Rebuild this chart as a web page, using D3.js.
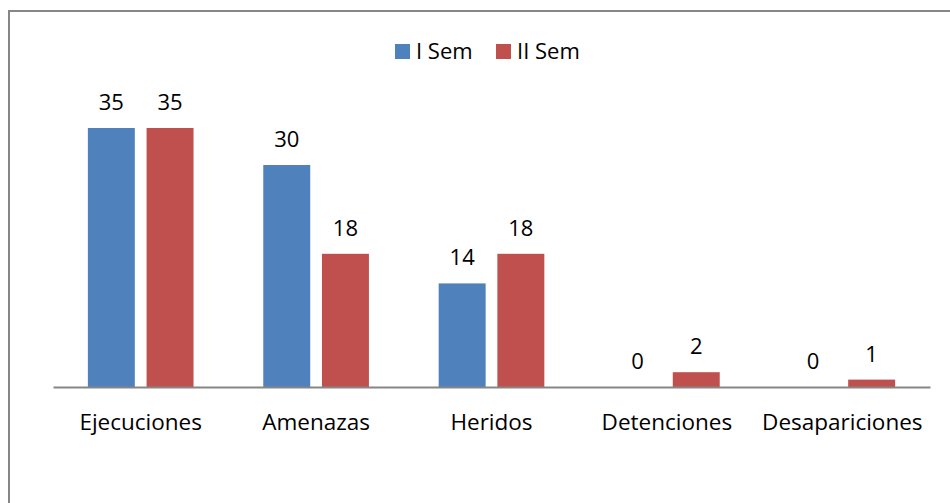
<!DOCTYPE html>
<html>
<head>
<meta charset="utf-8">
<script src="https://cdn.jsdelivr.net/npm/d3@7"></script>
<style>
  body { margin: 0; background: #fff; }
  text { font-family: "Open Sans", "DejaVu Sans", sans-serif; fill: #000; }
</style>
</head>
<body>
<div id="chart"></div>
<script>
const categories = ["Ejecuciones", "Amenazas", "Heridos", "Detenciones", "Desapariciones"];
const seriesNames = ["I Sem", "II Sem"];
const semI = [35, 30, 14, 0, 0];
const semII = [35, 18, 18, 2, 1];
const colors = ["#4F81BD", "#C0504D"];

const width = 950, height = 503;
const margin = {left: 53, right: 20, top: 91, bottom: 116};

let svg = d3.select("#chart")
    .append("svg")
    .attr("width", width)
    .attr("height", height);

// outer frame (runs off the picture at right and bottom)
svg.append("rect")
    .attr("x", 9).attr("y", 11)
    .attr("width", 960).attr("height", 520)
    .style("fill", "none")
    .style("stroke", "#868686")
    .style("stroke-width", 2);

const x0 = d3.scaleBand()
    .domain(categories)
    .range([margin.left, width - margin.right])
    .paddingInner(0)
    .paddingOuter(0);

const x1 = d3.scaleBand()
    .domain(seriesNames)
    .range([0, x0.bandwidth()])
    .paddingInner(0.2)
    .paddingOuter(0.594);

const y = d3.scaleLinear()
    .domain([0, 40])
    .range([height - margin.bottom, margin.top]);

const rows = categories.map(function(c, i) {
    return {cat: c, values: [semI[i], semII[i]]};
});

let groups = svg.append("g")
    .selectAll("g")
    .data(rows)
    .enter()
    .append("g")
    .attr("transform", function(d) { return "translate(" + x0(d.cat) + ",0)"; });

groups.selectAll("rect")
    .data(function(d) { return d.values.map(function(v, j) { return {s: seriesNames[j], v: v, j: j}; }); })
    .enter()
    .append("rect")
    .attr("x", function(d) { return x1(d.s); })
    .attr("width", x1.bandwidth())
    .attr("y", function(d) { return y(d.v); })
    .attr("height", function(d) { return y(0) - y(d.v); })
    .style("fill", function(d) { return colors[d.j]; });

groups.selectAll("text.val")
    .data(function(d) { return d.values.map(function(v, j) { return {s: seriesNames[j], v: v}; }); })
    .enter()
    .append("text")
    .attr("class", "val")
    .attr("x", function(d) { return x1(d.s) + x1.bandwidth() / 2; })
    .attr("y", function(d) { return y(d.v) - 18; })
    .attr("text-anchor", "middle")
    .style("font-size", "22px")
    .text(function(d) { return d.v; });

// x axis
const xAxis = d3.axisBottom(x0).tickSize(0).tickPadding(27);
let axisG = svg.append("g")
    .attr("transform", "translate(0," + y(0) + ")")
    .call(xAxis);
axisG.select(".domain").attr("stroke", "#868686").attr("stroke-width", 2);
axisG.selectAll("text")
    .style("font-size", "22.5px")
    .style("font-family", "'Open Sans', sans-serif")
    .attr("fill", "#000");

// legend
const legendX = [395, 496];
let legend = svg.append("g")
    .selectAll("g")
    .data(seriesNames)
    .enter()
    .append("g")
    .attr("transform", function(d, i) { return "translate(" + legendX[i] + ",44)"; });
legend.append("rect")
    .attr("width", 15).attr("height", 15)
    .style("fill", function(d, i) { return colors[i]; });
legend.append("text")
    .attr("x", 21).attr("y", 15)
    .style("font-size", "22px")
    .text(function(d) { return d; });
</script>
</body>
</html>
